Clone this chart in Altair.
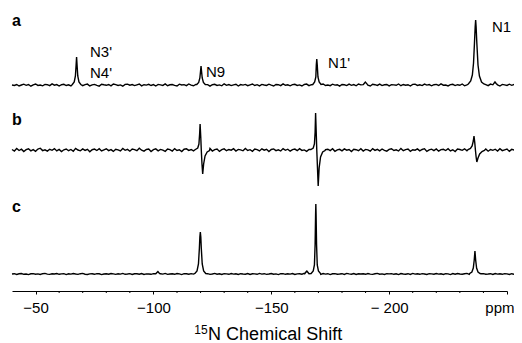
import altair as alt
import pandas as pd
import numpy as np

FONT = "Liberation Sans"

# ---- spectra (ppm, intensity in arbitrary units) ----
PPM_START = -40  # first sampled point, 1 ppm spacing

a_noise = [
    0,-0.5,0.5,-1,0,0.8,-0.3,0.5,-1.2,0.2,1,-0.4,0,-0.8,0.6,0.3,-0.6,1.1,-0.2,0.4,
    -1,0.3,0.7,-0.5,0.2,-0.9,0.5,1.2,-0.3,0,-0.7,0.4,0.9,-1,0.1,0.6,-0.4,-1.1,0.8,0.2,
    -0.3,0.5,-0.8,1,0.3,-0.5,0.1,-1.2,0.6,0.9,-0.2,0.4,-0.6,0.2,1,-0.9,0.3,-0.1,0.7,-0.5,
    0.4,-1,0.6,0.1,-0.4,1.1,-0.7,0.2,0.5,-0.3,-1,0.8,0,0.4,-0.6,1,-0.2,-0.8,0.5,0.3,
    -0.5,0.9,-0.2,0.4,-1.1,0.3,0.7,-0.4,0.1,-0.8,1.2,-0.3,0.5,-0.6,0.2,0.8,-1,0.4,-0.1,0.6,
    -0.7,0.2,1,-0.5,0.3,-0.9,0.6,0,-0.4,0.8,-0.2,-1,0.5,0.3,-0.6,1.1,-0.3,0.2,-0.8,0.4,
    0.7,-0.4,0.1,-1,0.5,0.9,-0.6,0.3,-0.2,0.6,-0.9,0.4,1,-0.5,0,-0.7,0.8,-0.1,0.3,-1.1,
    0.5,0.2,-0.6,0.9,-0.3,0.4,-0.8,1,0.1,-0.5,0.6,-0.2,-1,0.7,0.3,-0.4,0.9,-0.6,0.2,0.5,
    -0.9,0.4,0.1,-0.3,1,-0.7,0.5,-0.2,0.3,-1,0.6,0.8,-0.4,0.2,-0.6,0.9,-0.1,0.4,-0.8,0.3,
    0.6,-0.5,1.1,-0.2,0,-0.9,0.4,0.7,-0.6,0.3,-0.3,1,-0.8,0.2,0.5,-0.4,0.8,-1,0.1,0.6,
    -0.2,0.4,-0.7,0.9,0.2,-0.5,0.3,-1,0.6,0.1,-0.4,0.8,-0.3,0.5,-0.9,0.2,0.7,
]
b_noise = [
    0.5,-1,1.5,-0.5,0.8,-1.6,0.3,1.2,-0.8,0.4,-1.3,0.9,1.8,-0.6,0.2,-1.1,0.7,-0.3,1.4,-0.9,
    0.6,-1.5,0.2,1,-0.7,0.5,-1.2,1.6,0,-0.8,1.1,-0.4,0.7,-1.7,0.3,0.9,-0.5,1.3,-1,0.1,
    1.2,-0.6,0.4,-1.4,0.8,0.2,-0.9,1.5,-0.3,0.6,-1.2,1,0.3,-0.7,1.7,-0.2,-1.1,0.5,0.9,-1.5,
    0.3,1.1,-0.8,0.6,-0.2,-1.3,0.9,0.4,-1,1.4,-0.5,0.2,-1.6,0.8,1.2,-0.4,0.5,-0.9,1,-0.3,
    -1.2,0.7,0.2,-0.6,1.5,-1,0.4,0.9,-1.4,0.3,1.1,-0.7,0.5,-0.2,1.3,-1.1,0.6,0.1,-0.8,1.6,
    -0.5,0.3,-1.3,1,0.4,-0.9,1.2,-0.2,0.7,-1.5,0.5,1.1,-0.6,0.2,-1,1.4,-0.3,0.8,-1.2,0.4,
    0.9,-0.7,1.3,-0.4,0.1,-1.4,0.6,1,-0.8,0.3,-0.5,1.5,-1.1,0.4,0.8,-0.6,1.2,-1.3,0.2,0.7,
    -0.9,1.1,-0.2,0.5,-1.6,0.8,0.3,-0.7,1.3,-1,0.6,0.2,-1.2,1.4,-0.4,0.7,-0.8,1,-0.3,-1.1,
    0.6,1.2,-0.5,0.2,-1,1.6,-0.7,0.4,0.9,-1.3,0.3,-0.2,1.1,-0.9,0.5,1.3,-1.4,0.1,0.8,-0.6,
    1,-1.2,0.4,0.7,-0.5,1.3,-0.9,0.2,-1.5,0.9,0.5,-0.3,1.2,-0.8,0.1,-1.1,1.5,-0.4,0.6,-0.7,
    0.3,1,-1.2,0.5,-0.3,0.8,-1,1.3,-0.6,0.2,0.9,-1.4,0.6,-0.1,1.1,-0.8,0.4,
]
c_noise = [
    0,0.3,-0.4,0.2,0.5,-0.3,0,-0.6,0.2,0.4,-0.2,0.1,-0.5,0.3,0.6,-0.1,-0.4,0.2,0,0.5,
    -0.3,0.1,0.4,-0.6,0.2,-0.1,0.5,0,-0.4,0.3,0.6,-0.2,-0.5,0.1,0.3,-0.3,0.4,0.2,-0.6,0,
    0.3,-0.2,0.5,0.1,-0.4,0.2,-0.1,0.6,-0.3,0,0.4,-0.5,0.2,0.3,-0.2,0.5,-0.4,0.1,0,-0.3,
    0.4,0.2,-0.5,0.3,-0.1,0.6,-0.4,0,0.2,-0.3,0.5,0.1,-0.6,0.3,0.2,-0.2,0.4,-0.1,-0.5,0.2,
    0.5,-0.3,0.1,0.3,-0.4,0,0.6,-0.2,0.2,-0.5,0.4,0.1,-0.3,0.5,-0.1,0.2,-0.4,0.3,0,-0.2,
    0.4,-0.5,0.2,0.1,-0.3,0.6,-0.1,0.3,-0.4,0,0.5,-0.2,0.1,-0.6,0.3,0.4,-0.3,0.2,-0.1,0.5,
    -0.4,0.1,0.3,-0.2,0.6,-0.5,0,0.4,-0.3,0.2,0.1,-0.4,0.5,-0.1,0.3,-0.6,0.2,0.4,-0.2,0,
    0.3,-0.4,0.6,0.1,-0.2,0.4,-0.5,0.2,0,0.3,-0.3,0.5,-0.1,-0.4,0.2,0.6,-0.2,0.1,-0.5,0.3,
    0.1,0.4,-0.3,0.2,-0.6,0.5,0,-0.2,0.3,-0.4,0.6,-0.1,0.2,-0.3,0.4,0,-0.5,0.3,0.1,-0.2,
    0.5,-0.1,0.2,-0.4,0.3,0.1,-0.6,0.4,-0.2,0.5,0,-0.3,0.2,0.6,-0.4,0.1,-0.1,0.3,-0.5,0.2,
    0.4,-0.2,0,0.3,-0.4,0.5,-0.1,0.2,-0.3,0.4,0.1,-0.5,0.3,-0.2,0.1,0.4,-0.3,
]

# peaks: (ppm list, intensity list)
a_peaks = [
    ([-65.6,-66.4,-66.9,-67.2,-67.4,-67.6,-67.9,-68.4,-69.2], [0.5,3,9,20,28,20,9,3,0.5]),        # N3'/N4'
    ([-118.4,-119.2,-119.7,-120.0,-120.2,-120.4,-120.7,-121.2,-122.0], [0.5,2.5,7,14,19,14,7,2.5,0.5]),  # N9
    ([-167.6,-168.4,-168.9,-169.1,-169.3,-169.5,-169.8,-170.3,-171.1], [0.5,3,8,20,26,20,8,3,0.5]),  # N1'
    ([-189.0,-189.5,-189.9,-190.4,-190.9], [0.3,1.8,3,1.6,0.2]),
    ([-233.6,-234.6,-235.3,-235.8,-236.2,-236.5,-236.7,-236.9,-237.2,-237.7,-238.3,-239.2,-240.2],
     [1,4,10,22,42,58,65,58,42,20,9,3,1]),                                                          # N1
    ([-244.0,-244.5,-244.9,-245.4,-246.0], [0.2,1.8,3,1.5,0.2]),
]
b_peaks = [
    ([-117.8,-118.8,-119.3,-119.6,-119.8,-120.1,-120.3,-120.6,-120.9,-121.3,-121.9,-122.8,-123.8],
     [0.5,2,6,16,26,12,0,-14,-24,-14,-6,-2,-0.5]),
    ([-166.8,-167.8,-168.3,-168.6,-168.8,-169.1,-169.3,-169.6,-169.9,-170.3,-170.9,-171.8,-172.8],
     [0.5,2,6,18,37,15,0,-18,-36,-18,-7,-2,-0.5]),
    ([-233.5,-234.5,-235.2,-235.7,-236.0,-236.3,-236.6,-236.9,-237.2,-237.7,-238.4,-239.4,-240.4],
     [0.5,1.5,4,9,14,8,0,-7,-12,-8,-4,-1.5,-0.5]),
]
c_peaks = [
    ([-101.0,-101.5,-101.9,-102.3,-102.8], [0.2,1.5,2.5,1.3,0.2]),
    ([-117.6,-118.5,-119.1,-119.5,-119.7,-119.9,-120.1,-120.3,-120.7,-121.3,-122.2],
     [0.5,3,10,26,37,42,37,26,10,3,0.5]),
    ([-164.2,-164.7,-165.1,-165.5,-166.0], [0.2,2,3,1.8,0.3]),
    ([-166.9,-167.8,-168.3,-168.6,-168.8,-168.9,-169.0,-169.2,-169.5,-170.0,-170.9],
     [0.5,3,9,30,60,70,60,30,9,3,0.5]),
    ([-234.2,-235.1,-235.7,-236.1,-236.3,-236.4,-236.5,-236.7,-237.1,-237.7,-238.6],
     [0.5,2,6,14,20,23,20,14,6,2,0.5]),
]

traces = ["a", "b", "c"]
offsets = {"a": 206, "b": 141, "c": 17}   # vertical stacking of the traces
noise = {"a": a_noise, "b": b_noise, "c": c_noise}
peaks = {"a": a_peaks, "b": b_peaks, "c": c_peaks}

# annotations
panel_labels = ["a", "b", "c"]
panel_y = [265, 166, 79]
peak_names = ["N3'", "N4'", "N9", "N1'", "N1"]
peak_name_x = [-73.1, -73.1, -122.3, -174.1, -243.6]
peak_name_y = [234, 213, 214, 223, 259]

tick_values = [-50, -100, -150, -200, -250]
minor_ticks = [-60, -70, -80, -90, -110, -120, -130, -140, -160, -170, -180, -190,
               -210, -220, -230, -240]

rows = []
for t in traces:
    grid = PPM_START - np.arange(len(noise[t]))
    pts = list(zip(grid.tolist(), noise[t]))
    for pp, ii in peaks[t]:
        lo, hi = min(pp), max(pp)
        pts = [p for p in pts if not (lo <= p[0] <= hi)]
        pts += list(zip(pp, ii))
    pts.sort(key=lambda p: -p[0])
    for k, (x, v) in enumerate(pts):
        rows.append({"trace": t, "ppm": x, "v": v + offsets[t], "k": k})
df = pd.DataFrame(rows)

xscale = alt.Scale(domain=[-40, -250], nice=False, zero=False)
yscale = alt.Scale(domain=[0, 283], nice=False, zero=False)

label_expr = ("datum.value == -250 ? 'ppm' : (datum.value == -200 ? '\u2212 200' : "
              "'\u2212' + abs(datum.value))")

lines = alt.Chart(df).mark_line(color="black", strokeWidth=1.4, clip=False).encode(
    x=alt.X("ppm:Q", scale=xscale,
            axis=alt.Axis(values=tick_values, labelExpr=label_expr, title=None, grid=False,
                          tickSize=3, tickColor="black", tickWidth=1, domainColor="black",
                          domainWidth=1, labelFont=FONT, labelFontSize=15, labelColor="black",
                          labelPadding=6, labelFlush=False, labelOverlap=False,
                          labelAlign={"condition": {"test": "datum.value == -250", "value": "right"},
                                      "value": "center"},
                          labelOffset={"condition": {"test": "datum.value == -250", "value": 7},
                                       "value": 0})),
    y=alt.Y("v:Q", scale=yscale, axis=None),
    detail="trace:N",
    order="k:Q",
)

minor = alt.Chart(pd.DataFrame({"ppm": minor_ticks})).mark_rule(color="black", strokeWidth=1).encode(
    x=alt.X("ppm:Q", scale=xscale),
    y=alt.value(283), y2=alt.value(285),
)

panel_df = pd.DataFrame({"label": panel_labels, "x": [-40] * 3, "y": panel_y})
panels = alt.Chart(panel_df).mark_text(font=FONT, fontSize=16, fontWeight="bold", align="left",
                                       baseline="alphabetic", color="black").encode(
    x=alt.X("x:Q", scale=xscale), y=alt.Y("y:Q", scale=yscale), text="label:N")

pk_df = pd.DataFrame({"label": peak_names, "x": peak_name_x, "y": peak_name_y})
pknames = alt.Chart(pk_df).mark_text(font=FONT, fontSize=15, align="left",
                                     baseline="alphabetic", color="black").encode(
    x=alt.X("x:Q", scale=xscale), y=alt.Y("y:Q", scale=yscale), text="label:N")

title_df = pd.DataFrame({"label": ["N Chemical Shift"], "x": [-123.2], "y": [-49]})
title_main = alt.Chart(title_df).mark_text(font=FONT, fontSize=18, align="left",
                                           baseline="alphabetic", color="black").encode(
    x=alt.X("x:Q", scale=xscale), y=alt.Y("y:Q", scale=yscale), text="label:N")
sup_df = pd.DataFrame({"label": ["15"], "x": [-123.2], "y": [-43]})
title_sup = alt.Chart(sup_df).mark_text(font=FONT, fontSize=12, align="right", dx=-0.5,
                                        baseline="alphabetic", color="black").encode(
    x=alt.X("x:Q", scale=xscale), y=alt.Y("y:Q", scale=yscale), text="label:N")

chart = alt.layer(lines, minor, panels, pknames, title_main, title_sup).properties(
    width=495, height=283,
    autosize=alt.AutoSizeParams(type="none"),
    padding={"left": 4, "top": 0, "right": 7, "bottom": 54},
).configure(background="white").configure_view(stroke=None)

chart.save("out.html", embed_options={"renderer": "svg", "actions": False})
